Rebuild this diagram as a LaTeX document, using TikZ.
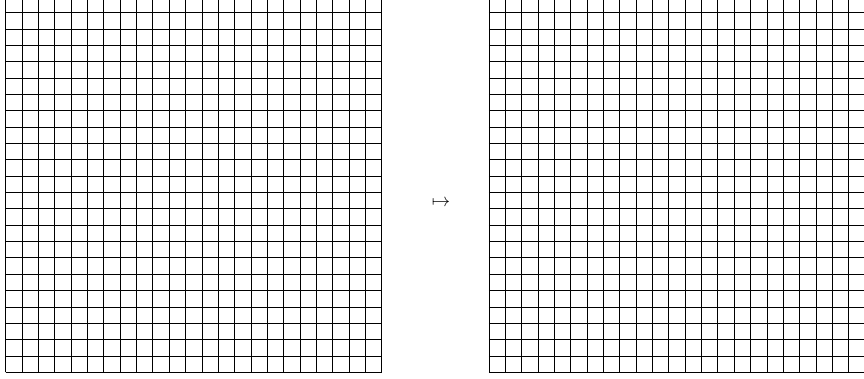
\documentclass[tikz,border=0pt]{standalone}
\usepackage{amsmath,amssymb}
\usetikzlibrary{positioning}

\begin{document}
\begin{tikzpicture}[x=0.314cm,y=0.314cm,
  cellgrid/.style={draw=black,line width=0.4pt,step=0.314cm},
  maparrow/.style={inner sep=0pt,font=\normalsize}
]
  \clip (-0.349,-0.41) rectangle (52.50,22.77);
  \useasboundingbox (-0.349,-0.41) rectangle (52.50,22.77);

  % Left grid
  \draw[cellgrid] (0,0) grid (23,23);

  % Map symbol
  \node[maparrow] (map) at (26.63,10.36) {$\mapsto$};

  % Right grid
  \begin{scope}[xshift=29.56*0.314cm]
    \draw[cellgrid] (0,0) grid (23,23);
  \end{scope}
\end{tikzpicture}
\end{document}
